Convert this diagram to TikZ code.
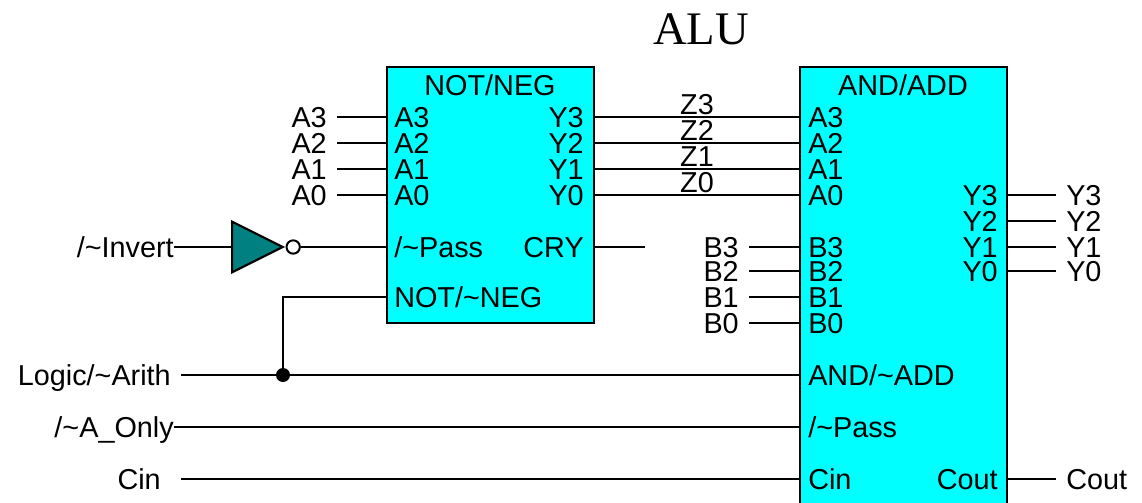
\documentclass[tikz,border=0pt]{standalone}
\usepackage{fontspec}
\setmainfont{Liberation Sans}
\newfontfamily\titlefont{Liberation Serif}
\usepackage{xcolor}
\usepackage{tikz}
\usetikzlibrary{positioning,calc,shapes.geometric}
\definecolor{boxCyan}{HTML}{00FFFF}
\definecolor{gateTeal}{HTML}{008080}
\tikzset{
  blockBox/.style={
    rectangle,
    draw=black,
    line width=1.7pt,
    fill=boxCyan,
    inner sep=0pt
  },
  sigText/.style={
    font=\fontsize{21.6}{21.6}\selectfont,
    text height=15.4pt,
    text depth=0pt,
    inner ysep=0pt,
    inner xsep=0pt
  },
  pinWest/.style={sigText, anchor=west},
  pinEast/.style={sigText, anchor=east},
  extIn/.style={sigText, anchor=east, inner xsep=7.5pt},
  extOut/.style={sigText, anchor=west, inner xsep=7.5pt},
  wireLine/.style={line width=1.6pt},
  notBubble/.style={
    circle,
    draw=black,
    line width=1.5pt,
    fill=white,
    inner sep=0pt,
    minimum size=10pt
  },
  invGate/.style={
    isosceles triangle,
    isosceles triangle stretches=true,
    draw=black,
    line width=1.6pt,
    fill=gateTeal,
    inner sep=0pt,
    minimum width=38pt,
    minimum height=38pt
  },
  joinDot/.style={circle, fill=black, inner sep=0pt, minimum size=10.5pt}
}
\begin{document}
\begin{tikzpicture}[x=0.75pt,y=-0.75pt]
  \clip (0,0) rectangle (1142,503);
  \node[font=\titlefont\fontsize{35}{35}\selectfont] (title) at (701,29) {ALU};

  % the two blocks
  \node[blockBox, minimum width=155.25pt, minimum height=192pt] (notBox) at (490.5,195) {};
  \node[blockBox, minimum width=155.25pt, minimum height=345pt] (andBox) at (903.5,297) {};
  \node[sigText] (notTitle) at (490,85) {NOT/NEG};
  \node[sigText] (andTitle) at (903,85) {AND/ADD};

  % NOT/NEG pins and their inputs
  \foreach \pinName/\pinY in {A3/117,A2/143,A1/169,A0/195} {
    \node[pinWest] (not\pinName) at (394,\pinY) {\pinName};
    \node[extIn] (ext\pinName) at (337,\pinY) {\pinName};
    \draw[wireLine] (ext\pinName.east) -- (ext\pinName.east -| notBox.west);
  }
  \node[pinWest] (notPass) at (394,247) {/\textasciitilde Pass};
  \node[pinWest] (notNeg) at (394,297) {NOT/\textasciitilde NEG};
  \node[pinEast] (notCry) at (584,247) {CRY};
  \coordinate (cryEnd) at (645,247);
  \draw[wireLine] (notBox.east |- cryEnd) -- (cryEnd);

  % AND/ADD pins, Y to A wires
  \foreach \pinName/\pinY/\zName in {3/117/Z3,2/143/Z2,1/169/Z1,0/195/Z0} {
    \node[pinEast] (notY\pinName) at (584,\pinY) {Y\pinName};
    \node[pinWest] (andA\pinName) at (808,\pinY) {A\pinName};
    \draw[wireLine] (notBox.east |- andA\pinName) -- node[sigText, above=1pt] (wire\zName) {\zName} (andBox.west |- andA\pinName);
  }
  \foreach \pinName/\pinY in {B3/247,B2/271,B1/297,B0/323} {
    \node[pinWest] (and\pinName) at (808,\pinY) {\pinName};
    \node[extIn] (ext\pinName) at (749,\pinY) {\pinName};
    \draw[wireLine] (ext\pinName.east) -- (ext\pinName.east -| andBox.west);
  }
  \foreach \pinName/\pinY in {Y3/195,Y2/221,Y1/247,Y0/271} {
    \node[pinEast] (and\pinName) at (998,\pinY) {\pinName};
    \node[extOut] (out\pinName) at (1056,\pinY) {\pinName};
    \draw[wireLine] (andBox.east |- out\pinName) -- (out\pinName.west);
  }
  \node[pinWest] (andLogic) at (808,375) {AND/\textasciitilde ADD};
  \node[pinWest] (andPass) at (808,427) {/\textasciitilde Pass};
  \node[pinWest] (andCin) at (808,479) {Cin};
  \node[pinEast] (andCout) at (998,479) {Cout};
  \node[extOut] (outCout) at (1056,479) {Cout};
  \draw[wireLine] (andBox.east |- outCout) -- (outCout.west);

  % control inputs
  \node[extIn] (logicIn) at (181,375) {Logic/\textasciitilde Arith};
  \node[pinEast] (onlyIn) at (174,427) {/\textasciitilde A\_Only};
  \node[extIn, inner xsep=15pt] (cinIn) at (181,479) {Cin};
  \node[pinEast] (invertIn) at (174,247) {/\textasciitilde Invert};
  \draw[wireLine] (logicIn.east) -- (logicIn.east -| andBox.west);
  \draw[wireLine] (onlyIn.east) -- (onlyIn.east -| andBox.west);
  \draw[wireLine] (cinIn.east) -- (cinIn.east -| andBox.west);

  % inverter
  \node[invGate, anchor=lower side] (invTri) at (231,247) {};
  \node[notBubble, anchor=west] (invDot) at (invTri.apex) {};
  \draw[wireLine] (invertIn.east) -- (invTri.lower side);
  \draw[wireLine] (invDot.east) -- (invDot.east -| notBox.west);

  % branch to NOT/~NEG
  \node[joinDot] (joinLogic) at (283,375) {};
  \draw[wireLine] (joinLogic.center) |- (notBox.west |- notNeg);
\end{tikzpicture}
\end{document}
